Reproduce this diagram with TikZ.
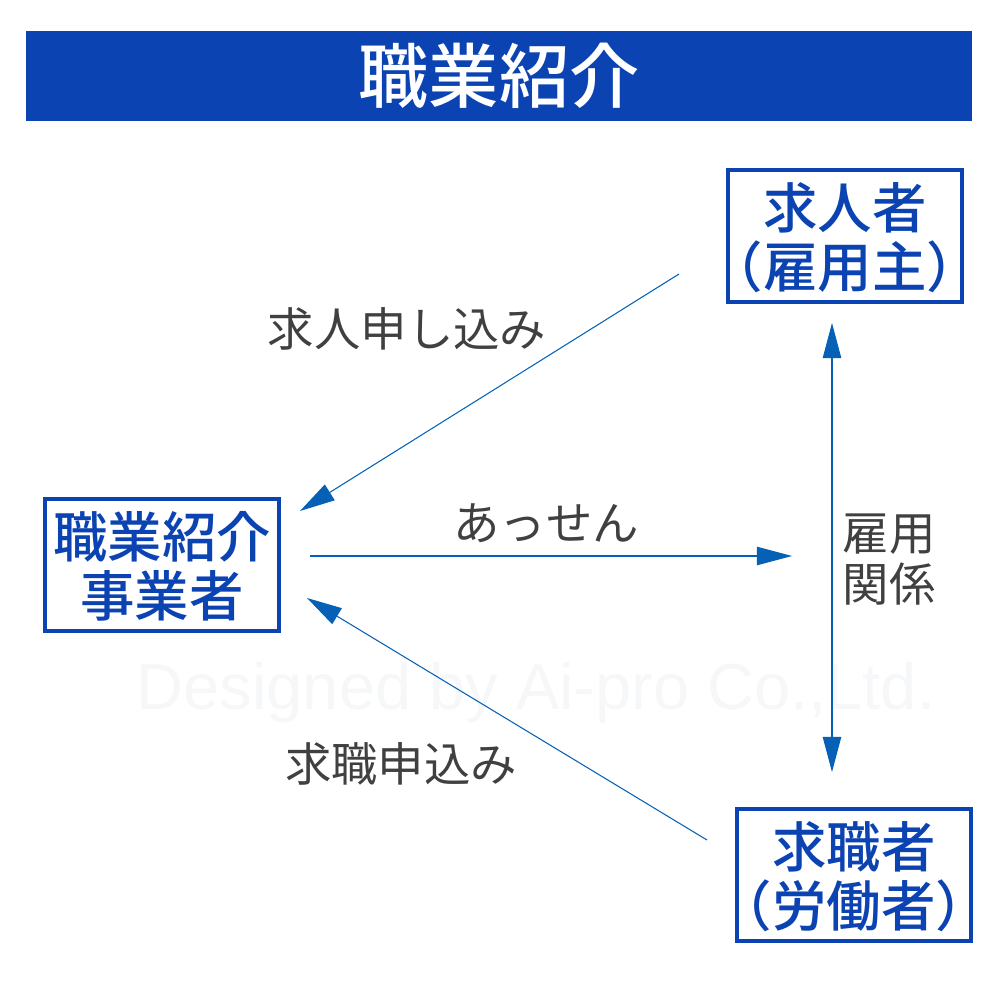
\documentclass[tikz,border=0pt]{standalone}
\usepackage{fontspec}
\setmainfont[BoldFont={Noto Sans CJK JP Medium}]{Noto Sans CJK JP}
\setsansfont{Liberation Sans}
\usetikzlibrary{arrows.meta,positioning}
\definecolor{bandblue}{RGB}{11,67,178}
\definecolor{linkblue}{RGB}{6,96,182}
\definecolor{labelgray}{RGB}{64,64,64}
\definecolor{markgray}{RGB}{246,247,249}
\newcommand{\topgap}{\rule{0pt}{28pt}}
\tikzset{
  party/.style={draw=bandblue,line width=2.1pt,fill=white,align=center,text=bandblue,
    font=\fontsize{31}{33.5}\selectfont\bfseries,inner sep=0pt,
    minimum width=234.5*0.02cm,minimum height=132.5*0.02cm},
  caption/.style={text=labelgray,font=\fontsize{26.4}{29}\selectfont,align=left,inner sep=0pt},
  link/.style={linkblue,line width=0.6pt,-{Triangle[length=20pt,width=10.5pt]}},
  bothlink/.style={linkblue,line width=0.6pt,{Triangle[length=20pt,width=10.5pt]}-{Triangle[length=20pt,width=10.5pt]}}
}
\begin{document}
\begin{tikzpicture}[x=0.02cm,y=-0.02cm]
\useasboundingbox (0,0) rectangle (995,1001);
% ==========================================
\node [fill=bandblue,minimum width=946*0.02cm,minimum height=90*0.02cm,inner sep=0pt] (band) at (499,76) {};
\node [text=white,font=\fontsize{40}{44}\selectfont\bfseries,inner sep=0pt] (title) at (499,76) {職業紹介};
\node [text=markgray,font=\sffamily\fontsize{37}{40}\selectfont,inner sep=0pt] (mark) at (536,693) {Designed by Ai-pro Co.,Ltd.};
%
\node [party] (seeker) at (845,236) {\topgap 求人者\\\makebox[0pt]{（雇用主）}};
\node [party] (agency) at (162,565) {\topgap 職業紹介\\事業者};
\node [party] (worker) at (854,875) {\topgap 求職者\\\makebox[0pt]{（労働者）}};
%
\coordinate (seekerout) at (679,274);
\coordinate (agencyin) at (300,511);
\coordinate (agencyout) at (310,556);
\coordinate (midin) at (792,556);
\coordinate (workerout) at (707,840);
\coordinate (agencyback) at (307,598);
\coordinate (seekerin) at (832,323);
\coordinate (workerin) at (832,772);
%
\draw [link] (seekerout) -- (agencyin);%Arrow.
\draw [link] (agencyout) -- (midin);%Arrow.
\draw [link] (workerout) -- (agencyback);%Arrow.
\draw [bothlink] (seekerin) -- (workerin);%Arrow.
%
\node [caption] (applyjob) at (407,329) {求人申し込み};
\node [caption] (mediate) at (546,523) {あっせん};
\node [caption] (applywork) at (401,764) {求職申込み};
\node [caption] (relation) at (889,560) {雇用\\関係};
% =============================================
\end{tikzpicture}
\end{document}
